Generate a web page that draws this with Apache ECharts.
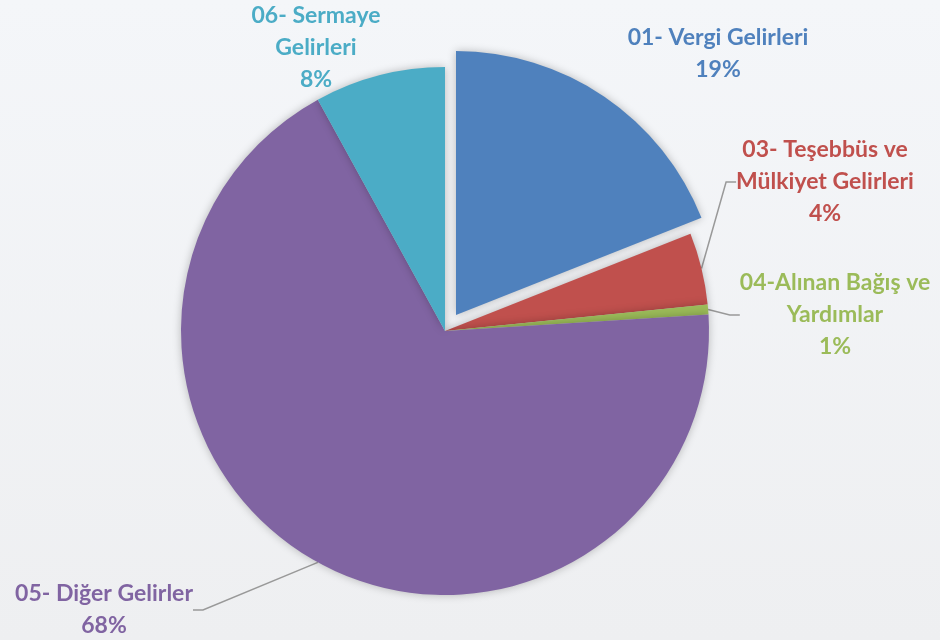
<!DOCTYPE html>
<html lang="tr">
<head>
    <meta charset="UTF-8">
    <title>Gelirler</title>
    <script type="text/javascript" src="https://cdn.jsdelivr.net/npm/echarts@6/dist/echarts.min.js"></script>
    <style>
        body { margin: 0; }
        #main { width: 940px; height: 640px; }
    </style>
</head>
<body>
<div id="main"></div>

<script type="text/javascript">
    // kategoriler ve yüzdeler
    var names = ['01- Vergi Gelirleri', '03- Teşebbüs ve\nMülkiyet Gelirleri', '04-Alınan Bağış ve\nYardımlar', '05- Diğer Gelirler', '06- Sermaye\nGelirleri'];
    var values = [19.0, 4.4, 0.6, 68.0, 8.0];
    var colors = ['#4f81bd', '#c0504d', '#9bbb59', '#8064a2', '#4bacc6'];

    // etiket merkezleri (x, y)
    var labelPos = [[718, 54], [825, 182], [835, 315], [104, 610], [316, 48]];

    var total = values.reduce(function (a, b) { return a + b; }, 0);

    var chartDom = document.getElementById('main');
    var myChart = echarts.init(chartDom);

    var labelBase = {
        show: true,
        position: 'outside',
        fontFamily: 'Lato',
        fontWeight: 'bold',
        fontSize: 23,
        lineHeight: 32,
        align: 'center',
        formatter: function (p) {
            return p.name + '\n' + Math.round(p.value / total * 100) + '%';
        }
    };

    // ana pasta: Vergi dilimi boş bırakılır, ayrı seride dışarı çekilmiş çizilir
    var mainData = names.map(function (n, i) {
        if (i === 0) {
            return {name: n, value: values[i], itemStyle: {color: 'transparent', shadowBlur: 0}, label: {show: false}, labelLine: {show: false}};
        }
        return {
            name: n,
            value: values[i],
            itemStyle: {color: colors[i]},
            label: {color: colors[i]},
            labelLine: {show: i !== 4}
        };
    });

    var rest = total - values[0];
    var vergiData = [
        {name: names[0], value: values[0], itemStyle: {color: colors[0]}, label: {color: colors[0]}, labelLine: {show: false}},
        {name: 'rest', value: rest, itemStyle: {color: 'transparent', shadowBlur: 0}, label: {show: false}, labelLine: {show: false}}
    ];

    var option = {
        animation: false,
        backgroundColor: {
            type: 'linear', x: 0, y: 0, x2: 0, y2: 1,
            colorStops: [{offset: 0, color: '#f4f6f9'}, {offset: 1, color: '#eeeff1'}]
        },
        series: [
            {
                type: 'pie',
                center: [445, 331],
                radius: 264,
                startAngle: 90,
                silent: true,
                itemStyle: {shadowBlur: 8, shadowColor: 'rgba(0,0,0,0.25)'},
                label: labelBase,
                labelLine: {
                    length: 12,
                    length2: 10,
                    lineStyle: {color: '#999999', width: 1.5}
                },
                labelLayout: function (p) {
                    var pos = labelPos[p.dataIndex];
                    return {x: pos[0], y: pos[1], align: 'center', verticalAlign: 'middle'};
                },
                data: mainData
            },
            {
                // dışarı çekilmiş dilim
                type: 'pie',
                center: [456, 315],
                radius: 264,
                startAngle: 90,
                silent: true,
                itemStyle: {shadowBlur: 8, shadowColor: 'rgba(0,0,0,0.25)'},
                label: labelBase,
                labelLayout: function (p) {
                    var pos = labelPos[0];
                    return {x: pos[0], y: pos[1], align: 'center', verticalAlign: 'middle'};
                },
                data: vergiData
            }
        ]
    };

    option && myChart.setOption(option);
</script>
</body>
</html>
